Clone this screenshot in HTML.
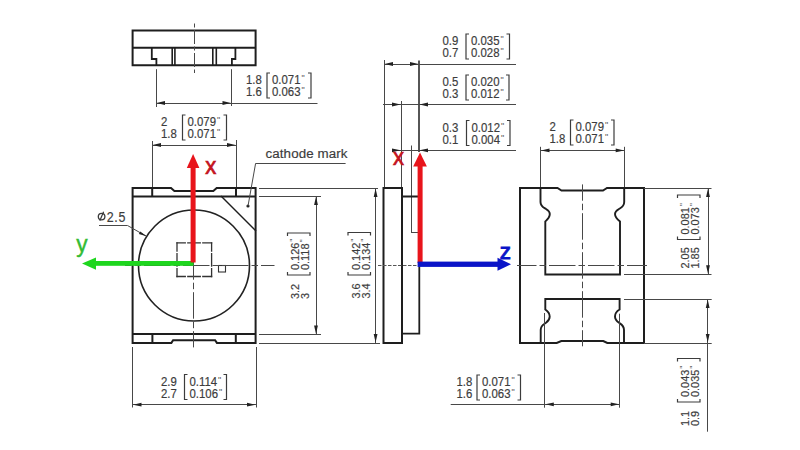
<!DOCTYPE html>
<html><head><meta charset="utf-8"><style>
html,body{margin:0;padding:0;background:#fff;width:800px;height:450px;overflow:hidden}
svg{display:block}
text{font-family:"Liberation Sans",sans-serif}
</style></head><body>
<svg width="800" height="450" viewBox="0 0 800 450">
<rect width="800" height="450" fill="#fff"/>
<path d="M132.6,30.6 H255.6 V65.3 H132.6 Z" stroke="#1e1e1e" stroke-width="2" fill="none"/>
<line x1="132.6" y1="47.8" x2="255.6" y2="47.8" stroke="#1e1e1e" stroke-width="2"/>
<path d="M151.8,48 V59 H156.4 V65.3" stroke="#1e1e1e" stroke-width="1.8" fill="none"/>
<path d="M235.4,48 V59 H231.9 V65.3" stroke="#1e1e1e" stroke-width="1.8" fill="none"/>
<line x1="172.2" y1="48" x2="172.2" y2="65.3" stroke="#1e1e1e" stroke-width="1.6"/>
<line x1="174.9" y1="48" x2="174.9" y2="65.3" stroke="#1e1e1e" stroke-width="1.6"/>
<line x1="212.8" y1="48" x2="212.8" y2="65.3" stroke="#1e1e1e" stroke-width="1.6"/>
<line x1="216.3" y1="48" x2="216.3" y2="65.3" stroke="#1e1e1e" stroke-width="1.6"/>
<line x1="194.5" y1="23" x2="194.5" y2="73" stroke="#484848" stroke-width="1" stroke-dasharray="14,2.5,4,2.5" stroke-dashoffset="16.0"/>
<line x1="156.5" y1="69.2" x2="156.5" y2="107" stroke="#484848" stroke-width="1"/>
<line x1="231.5" y1="69.2" x2="231.5" y2="106" stroke="#484848" stroke-width="1"/>
<line x1="156.4" y1="103.5" x2="317.5" y2="103.5" stroke="#484848" stroke-width="1"/>
<polygon points="156.5,103 165.0,101.1 165.0,104.9" fill="#222"/>
<polygon points="231,103 222.5,101.1 222.5,104.9" fill="#222"/>
<text transform="translate(246,84) scale(0.95,1)" font-size="12" fill="#3c3c3c" stroke="#3c3c3c" stroke-width="0.18" text-anchor="start" >1.8</text>
<text transform="translate(246,96) scale(0.95,1)" font-size="12" fill="#3c3c3c" stroke="#3c3c3c" stroke-width="0.18" text-anchor="start" >1.6</text>
<path d="M270,73 H267 V98 H270" stroke="#3c3c3c" stroke-width="1.2" fill="none"/>
<path d="M308,73 H311 V98 H308" stroke="#3c3c3c" stroke-width="1.2" fill="none"/>
<text transform="translate(272,84) scale(0.95,1)" font-size="12" fill="#3c3c3c" stroke="#3c3c3c" stroke-width="0.18" text-anchor="start" >0.071<tspan font-size="9.5" dy="-3" dx="1" stroke-width="0" fill="#555">"</tspan></text>
<text transform="translate(272,96) scale(0.95,1)" font-size="12" fill="#3c3c3c" stroke="#3c3c3c" stroke-width="0.18" text-anchor="start" >0.063<tspan font-size="9.5" dy="-3" dx="1" stroke-width="0" fill="#555">"</tspan></text>
<line x1="152.5" y1="141" x2="152.5" y2="188" stroke="#484848" stroke-width="1"/>
<line x1="236.5" y1="140" x2="236.5" y2="188" stroke="#484848" stroke-width="1"/>
<line x1="152" y1="145.5" x2="236" y2="145.5" stroke="#484848" stroke-width="1"/>
<polygon points="152.5,145 161.0,143.1 161.0,146.9" fill="#222"/>
<polygon points="235.5,145 227.0,143.1 227.0,146.9" fill="#222"/>
<text transform="translate(161,126) scale(0.95,1)" font-size="12" fill="#3c3c3c" stroke="#3c3c3c" stroke-width="0.18" text-anchor="start" >2</text>
<text transform="translate(161,138) scale(0.95,1)" font-size="12" fill="#3c3c3c" stroke="#3c3c3c" stroke-width="0.18" text-anchor="start" >1.8</text>
<path d="M185.5,115 H182.5 V140 H185.5" stroke="#3c3c3c" stroke-width="1.2" fill="none"/>
<path d="M223.5,115 H226.5 V140 H223.5" stroke="#3c3c3c" stroke-width="1.2" fill="none"/>
<text transform="translate(187.5,126) scale(0.95,1)" font-size="12" fill="#3c3c3c" stroke="#3c3c3c" stroke-width="0.18" text-anchor="start" >0.079<tspan font-size="9.5" dy="-3" dx="1" stroke-width="0" fill="#555">"</tspan></text>
<text transform="translate(187.5,138) scale(0.95,1)" font-size="12" fill="#3c3c3c" stroke="#3c3c3c" stroke-width="0.18" text-anchor="start" >0.071<tspan font-size="9.5" dy="-3" dx="1" stroke-width="0" fill="#555">"</tspan></text>
<path d="M132.6,188 H171 L174.4,191.1 H213.3 L216.7,188 H255.6 V342.9 H216.9 L215.1,340.2 H173.1 L171.4,342.9 H132.6 Z" stroke="#1e1e1e" stroke-width="2" fill="none"/>
<line x1="132.6" y1="196.6" x2="255.6" y2="196.6" stroke="#1e1e1e" stroke-width="2"/>
<line x1="132.6" y1="333.9" x2="255.6" y2="333.9" stroke="#1e1e1e" stroke-width="2"/>
<line x1="152.2" y1="188" x2="152.2" y2="196.6" stroke="#1e1e1e" stroke-width="2"/>
<line x1="236" y1="188" x2="236" y2="196.6" stroke="#1e1e1e" stroke-width="2"/>
<line x1="152.4" y1="334" x2="152.4" y2="343" stroke="#1e1e1e" stroke-width="2"/>
<line x1="235.8" y1="334" x2="235.8" y2="343" stroke="#1e1e1e" stroke-width="2"/>
<line x1="221" y1="196" x2="256" y2="231" stroke="#1e1e1e" stroke-width="1.5"/>
<circle cx="248" cy="206" r="1.6" fill="#222"/>
<line x1="248" y1="206" x2="255.6" y2="163.4" stroke="#484848" stroke-width="1"/>
<line x1="255.6" y1="163.5" x2="345.6" y2="163.5" stroke="#484848" stroke-width="1"/>
<text transform="translate(265.5,158.3) scale(0.99,1)" font-size="13.5" fill="#3c3c3c" stroke="#3c3c3c" stroke-width="0.18" text-anchor="start" letter-spacing="0.1">cathode mark</text>
<circle cx="194" cy="265.5" r="55.5" fill="none" stroke="#222" stroke-width="1.6"/>
<line x1="177" y1="242.8" x2="211.6" y2="242.8" stroke="#333" stroke-width="1.3" stroke-dasharray="8.3,2.5,12.5,2.5,9,0" stroke-linecap="square"/>
<line x1="177" y1="276.5" x2="211.6" y2="276.5" stroke="#333" stroke-width="1.3" stroke-dasharray="8.3,2.5,12.5,2.5,9,0" stroke-linecap="square"/>
<line x1="177" y1="242.8" x2="177" y2="276.5" stroke="#333" stroke-width="1.3" stroke-dasharray="8.3,2.5,12.5,2.5,9,0" stroke-linecap="square"/>
<line x1="211.6" y1="242.8" x2="211.6" y2="276.5" stroke="#333" stroke-width="1.3" stroke-dasharray="8.3,2.5,12.5,2.5,9,0" stroke-linecap="square"/>
<rect x="218.5" y="265.5" width="7" height="6.5" fill="none" stroke="#333" stroke-width="1.1"/>
<line x1="125" y1="265.5" x2="274.5" y2="265.5" stroke="#484848" stroke-width="1" stroke-dasharray="26.5,3,6.5,3" stroke-dashoffset="20.0"/>
<line x1="193.5" y1="196" x2="193.5" y2="347.4" stroke="#484848" stroke-width="1" stroke-dasharray="26.5,3,6.5,3" stroke-dashoffset="20.80000000000001"/>
<circle cx="101.6" cy="216.6" r="3.3" fill="none" stroke="#3a3a3a" stroke-width="1.3"/>
<line x1="99.8" y1="220.8" x2="103.6" y2="211.8" stroke="#3a3a3a" stroke-width="1.2"/>
<text transform="translate(106.8,221.5) scale(0.86,1)" font-size="14.5" fill="#3c3c3c" stroke="#3c3c3c" stroke-width="0.18" text-anchor="start" letter-spacing="0.7">2.5</text>
<line x1="99" y1="225.5" x2="127.5" y2="225.5" stroke="#484848" stroke-width="1"/>
<line x1="127.5" y1="225.5" x2="146" y2="236" stroke="#484848" stroke-width="1"/>
<polygon points="146.5,236.3 138.9,234.0 140.3,231.5" fill="#222"/>
<line x1="132.5" y1="347" x2="132.5" y2="407.5" stroke="#484848" stroke-width="1"/>
<line x1="256.5" y1="347" x2="256.5" y2="407.5" stroke="#484848" stroke-width="1"/>
<line x1="132.5" y1="404.5" x2="256" y2="404.5" stroke="#484848" stroke-width="1"/>
<polygon points="133,404.7 141.5,402.8 141.5,406.59999999999997" fill="#222"/>
<polygon points="255.5,404.7 247.0,402.8 247.0,406.59999999999997" fill="#222"/>
<text transform="translate(161,385.5) scale(0.95,1)" font-size="12" fill="#3c3c3c" stroke="#3c3c3c" stroke-width="0.18" text-anchor="start" >2.9</text>
<text transform="translate(161,397.5) scale(0.95,1)" font-size="12" fill="#3c3c3c" stroke="#3c3c3c" stroke-width="0.18" text-anchor="start" >2.7</text>
<path d="M187.5,374.5 H184.5 V399.5 H187.5" stroke="#3c3c3c" stroke-width="1.2" fill="none"/>
<path d="M223.5,374.5 H226.5 V399.5 H223.5" stroke="#3c3c3c" stroke-width="1.2" fill="none"/>
<text transform="translate(189.5,385.5) scale(0.95,1)" font-size="12" fill="#3c3c3c" stroke="#3c3c3c" stroke-width="0.18" text-anchor="start" >0.114<tspan font-size="9.5" dy="-3" dx="1" stroke-width="0" fill="#555">"</tspan></text>
<text transform="translate(189.5,397.5) scale(0.95,1)" font-size="12" fill="#3c3c3c" stroke="#3c3c3c" stroke-width="0.18" text-anchor="start" >0.106<tspan font-size="9.5" dy="-3" dx="1" stroke-width="0" fill="#555">"</tspan></text>
<line x1="259" y1="188.5" x2="378" y2="188.5" stroke="#484848" stroke-width="1"/>
<line x1="259" y1="196.5" x2="321" y2="196.5" stroke="#484848" stroke-width="1"/>
<line x1="259" y1="334.5" x2="321" y2="334.5" stroke="#484848" stroke-width="1"/>
<line x1="259" y1="343.5" x2="380" y2="343.5" stroke="#484848" stroke-width="1"/>
<line x1="316.5" y1="196" x2="316.5" y2="334.4" stroke="#484848" stroke-width="1"/>
<line x1="375.5" y1="188" x2="375.5" y2="343" stroke="#484848" stroke-width="1"/>
<polygon points="316,196.5 314.1,205.0 317.9,205.0" fill="#222"/>
<polygon points="316,334 314.1,325.5 317.9,325.5" fill="#222"/>
<polygon points="375.6,188.5 373.70000000000005,197.0 377.5,197.0" fill="#222"/>
<polygon points="375.6,342.5 373.70000000000005,334.0 377.5,334.0" fill="#222"/>
<g transform="translate(299,299) rotate(-90)">
<text transform="translate(0,0) scale(0.95,1)" font-size="11.5" fill="#3c3c3c" stroke="#3c3c3c" stroke-width="0.18" text-anchor="start" >3.2</text>
<text transform="translate(0,10) scale(0.95,1)" font-size="11.5" fill="#3c3c3c" stroke="#3c3c3c" stroke-width="0.18" text-anchor="start" >3</text>
</g>
<path d="M287.5,272 V275 H310 V272" stroke="#3c3c3c" stroke-width="1.2" fill="none"/>
<path d="M287.5,236 V233 H310 V236" stroke="#3c3c3c" stroke-width="1.2" fill="none"/>
<g transform="translate(299,270) rotate(-90)">
<text transform="translate(0,0) scale(0.95,1)" font-size="11.5" fill="#3c3c3c" stroke="#3c3c3c" stroke-width="0.18" text-anchor="start" >0.126<tspan font-size="9.5" dy="-3" dx="1" stroke-width="0" fill="#555">"</tspan></text>
<text transform="translate(0,10) scale(0.95,1)" font-size="11.5" fill="#3c3c3c" stroke="#3c3c3c" stroke-width="0.18" text-anchor="start" >0.118<tspan font-size="9.5" dy="-3" dx="1" stroke-width="0" fill="#555">"</tspan></text>
</g>
<g transform="translate(359.5,298.5) rotate(-90)">
<text transform="translate(0,0) scale(0.95,1)" font-size="11.5" fill="#3c3c3c" stroke="#3c3c3c" stroke-width="0.18" text-anchor="start" >3.6</text>
<text transform="translate(0,10) scale(0.95,1)" font-size="11.5" fill="#3c3c3c" stroke="#3c3c3c" stroke-width="0.18" text-anchor="start" >3.4</text>
</g>
<path d="M348.0,272 V275 H370.5 V272" stroke="#3c3c3c" stroke-width="1.2" fill="none"/>
<path d="M348.0,235.5 V232.5 H370.5 V235.5" stroke="#3c3c3c" stroke-width="1.2" fill="none"/>
<g transform="translate(359.5,270) rotate(-90)">
<text transform="translate(0,0) scale(0.95,1)" font-size="11.5" fill="#3c3c3c" stroke="#3c3c3c" stroke-width="0.18" text-anchor="start" >0.142<tspan font-size="9.5" dy="-3" dx="1" stroke-width="0" fill="#555">"</tspan></text>
<text transform="translate(0,10) scale(0.95,1)" font-size="11.5" fill="#3c3c3c" stroke="#3c3c3c" stroke-width="0.18" text-anchor="start" >0.134<tspan font-size="9.5" dy="-3" dx="1" stroke-width="0" fill="#555">"</tspan></text>
</g>
<line x1="384.5" y1="60" x2="384.5" y2="188" stroke="#484848" stroke-width="1"/>
<line x1="419" y1="60.6" x2="419" y2="152" stroke="#1e1e1e" stroke-width="1.5"/>
<line x1="401.5" y1="101" x2="401.5" y2="188" stroke="#484848" stroke-width="1"/>
<line x1="411.5" y1="145.5" x2="411.5" y2="232" stroke="#484848" stroke-width="1"/>
<line x1="411" y1="232.5" x2="418" y2="232.5" stroke="#484848" stroke-width="1"/>
<line x1="384" y1="64.5" x2="516" y2="64.5" stroke="#484848" stroke-width="1"/>
<polygon points="384.5,64 393.0,62.1 393.0,65.9" fill="#222"/>
<polygon points="418.5,64 410.0,62.1 410.0,65.9" fill="#222"/>
<line x1="383" y1="104.5" x2="516" y2="104.5" stroke="#484848" stroke-width="1"/>
<polygon points="400.5,104.5 392.0,102.6 392.0,106.4" fill="#222"/>
<polygon points="419.5,104.5 428.0,102.6 428.0,106.4" fill="#222"/>
<line x1="392" y1="150.5" x2="516" y2="150.5" stroke="#484848" stroke-width="1"/>
<polygon points="400.5,150.3 392.0,148.4 392.0,152.20000000000002" fill="#222"/>
<polygon points="419.5,150.3 428.0,148.4 428.0,152.20000000000002" fill="#222"/>
<text transform="translate(442.5,45) scale(0.95,1)" font-size="12" fill="#3c3c3c" stroke="#3c3c3c" stroke-width="0.18" text-anchor="start" >0.9</text>
<text transform="translate(442.5,57) scale(0.95,1)" font-size="12" fill="#3c3c3c" stroke="#3c3c3c" stroke-width="0.18" text-anchor="start" >0.7</text>
<path d="M469,34 H466 V59 H469" stroke="#3c3c3c" stroke-width="1.2" fill="none"/>
<path d="M506.5,34 H509.5 V59 H506.5" stroke="#3c3c3c" stroke-width="1.2" fill="none"/>
<text transform="translate(471,45) scale(0.95,1)" font-size="12" fill="#3c3c3c" stroke="#3c3c3c" stroke-width="0.18" text-anchor="start" >0.035<tspan font-size="9.5" dy="-3" dx="1" stroke-width="0" fill="#555">"</tspan></text>
<text transform="translate(471,57) scale(0.95,1)" font-size="12" fill="#3c3c3c" stroke="#3c3c3c" stroke-width="0.18" text-anchor="start" >0.028<tspan font-size="9.5" dy="-3" dx="1" stroke-width="0" fill="#555">"</tspan></text>
<text transform="translate(442.5,86) scale(0.95,1)" font-size="12" fill="#3c3c3c" stroke="#3c3c3c" stroke-width="0.18" text-anchor="start" >0.5</text>
<text transform="translate(442.5,98) scale(0.95,1)" font-size="12" fill="#3c3c3c" stroke="#3c3c3c" stroke-width="0.18" text-anchor="start" >0.3</text>
<path d="M469,75 H466 V100 H469" stroke="#3c3c3c" stroke-width="1.2" fill="none"/>
<path d="M506,75 H509 V100 H506" stroke="#3c3c3c" stroke-width="1.2" fill="none"/>
<text transform="translate(471,86) scale(0.95,1)" font-size="12" fill="#3c3c3c" stroke="#3c3c3c" stroke-width="0.18" text-anchor="start" >0.020<tspan font-size="9.5" dy="-3" dx="1" stroke-width="0" fill="#555">"</tspan></text>
<text transform="translate(471,98) scale(0.95,1)" font-size="12" fill="#3c3c3c" stroke="#3c3c3c" stroke-width="0.18" text-anchor="start" >0.012<tspan font-size="9.5" dy="-3" dx="1" stroke-width="0" fill="#555">"</tspan></text>
<text transform="translate(442.5,131.5) scale(0.95,1)" font-size="12" fill="#3c3c3c" stroke="#3c3c3c" stroke-width="0.18" text-anchor="start" >0.3</text>
<text transform="translate(442.5,143.5) scale(0.95,1)" font-size="12" fill="#3c3c3c" stroke="#3c3c3c" stroke-width="0.18" text-anchor="start" >0.1</text>
<path d="M469.5,120.5 H466.5 V145.5 H469.5" stroke="#3c3c3c" stroke-width="1.2" fill="none"/>
<path d="M507,120.5 H510 V145.5 H507" stroke="#3c3c3c" stroke-width="1.2" fill="none"/>
<text transform="translate(471.5,131.5) scale(0.95,1)" font-size="12" fill="#3c3c3c" stroke="#3c3c3c" stroke-width="0.18" text-anchor="start" >0.012<tspan font-size="9.5" dy="-3" dx="1" stroke-width="0" fill="#555">"</tspan></text>
<text transform="translate(471.5,143.5) scale(0.95,1)" font-size="12" fill="#3c3c3c" stroke="#3c3c3c" stroke-width="0.18" text-anchor="start" >0.004<tspan font-size="9.5" dy="-3" dx="1" stroke-width="0" fill="#555">"</tspan></text>
<path d="M383.5,188 H402 V343 H383.5 Z" stroke="#1e1e1e" stroke-width="2" fill="none"/>
<path d="M402,196.5 H419.3 V333.6 H402" stroke="#1e1e1e" stroke-width="1.8" fill="none"/>
<line x1="378" y1="265.5" x2="420" y2="265.5" stroke="#555" stroke-width="1" stroke-dasharray="3.5,1.5" stroke-dashoffset="0.0"/>
<line x1="540.5" y1="146.8" x2="540.5" y2="188" stroke="#484848" stroke-width="1"/>
<line x1="624.5" y1="146.8" x2="624.5" y2="188" stroke="#484848" stroke-width="1"/>
<line x1="540.5" y1="150.5" x2="624.7" y2="150.5" stroke="#484848" stroke-width="1"/>
<polygon points="541,150.4 549.5,148.5 549.5,152.3" fill="#222"/>
<polygon points="624.2,150.4 615.7,148.5 615.7,152.3" fill="#222"/>
<text transform="translate(549.5,131) scale(0.95,1)" font-size="12" fill="#3c3c3c" stroke="#3c3c3c" stroke-width="0.18" text-anchor="start" >2</text>
<text transform="translate(549.5,143) scale(0.95,1)" font-size="12" fill="#3c3c3c" stroke="#3c3c3c" stroke-width="0.18" text-anchor="start" >1.8</text>
<path d="M573.5,120 H570.5 V145 H573.5" stroke="#3c3c3c" stroke-width="1.2" fill="none"/>
<path d="M611,120 H614 V145 H611" stroke="#3c3c3c" stroke-width="1.2" fill="none"/>
<text transform="translate(575.5,131) scale(0.95,1)" font-size="12" fill="#3c3c3c" stroke="#3c3c3c" stroke-width="0.18" text-anchor="start" >0.079<tspan font-size="9.5" dy="-3" dx="1" stroke-width="0" fill="#555">"</tspan></text>
<text transform="translate(575.5,143) scale(0.95,1)" font-size="12" fill="#3c3c3c" stroke="#3c3c3c" stroke-width="0.18" text-anchor="start" >0.071<tspan font-size="9.5" dy="-3" dx="1" stroke-width="0" fill="#555">"</tspan></text>
<path d="M520,188 H557.5 L561.5,190.5 H603 L607,188 H644 V343 H607.3 L603.3,341 H561.3 L556.7,343 H520 Z" stroke="#1e1e1e" stroke-width="2" fill="none"/>
<path d="M540.5,188 V202 C540.5,206.5 543.5,207.5 546,209 C548.5,210.5 549.8,212.5 549.8,214 C549.8,217.5 547.5,219.5 545.3,221.5 V274.5 H620 V221.5 C617.5,219.5 615,217.5 615,214 C615,212.5 616.5,210.5 619,209 C621.5,207.5 624.2,206.5 624.2,202 V188" stroke="#1e1e1e" stroke-width="1.9" fill="none"/>
<path d="M540.7,343 V330 C540.7,325.5 543.5,324.5 546,322.8 C548.5,321 549.7,318.5 549.7,316.5 C549.7,313 547.5,311 545.3,309.5 V299 H619.6 V309.5 C617,311 615,313 615,316.5 C615,318.5 616.5,321 619,322.8 C621.5,324.5 624,325.5 624,330 V343" stroke="#1e1e1e" stroke-width="1.9" fill="none"/>
<line x1="582.5" y1="184.4" x2="582.5" y2="346.3" stroke="#484848" stroke-width="1" stroke-dasharray="26.5,3,6.5,3" stroke-dashoffset="10.200000000000017"/>
<line x1="517" y1="265.5" x2="647" y2="265.5" stroke="#484848" stroke-width="1" stroke-dasharray="26.5,3,6.5,3" stroke-dashoffset="7.0"/>
<line x1="644" y1="188.5" x2="711.5" y2="188.5" stroke="#484848" stroke-width="1"/>
<line x1="624" y1="274.5" x2="711.5" y2="274.5" stroke="#484848" stroke-width="1"/>
<line x1="624" y1="299.5" x2="711.7" y2="299.5" stroke="#484848" stroke-width="1"/>
<line x1="644" y1="343.5" x2="711.7" y2="343.5" stroke="#484848" stroke-width="1"/>
<line x1="708.5" y1="188" x2="708.5" y2="274.3" stroke="#484848" stroke-width="1"/>
<polygon points="708,188.5 706.1,197.0 709.9,197.0" fill="#222"/>
<polygon points="708,273.8 706.1,265.3 709.9,265.3" fill="#222"/>
<line x1="707.5" y1="299" x2="707.5" y2="431.7" stroke="#484848" stroke-width="1"/>
<polygon points="707.7,299.5 705.8000000000001,308.0 709.6,308.0" fill="#222"/>
<polygon points="707.7,342.5 705.8000000000001,334.0 709.6,334.0" fill="#222"/>
<line x1="544.5" y1="313" x2="544.5" y2="407.7" stroke="#484848" stroke-width="1"/>
<line x1="619.5" y1="313.7" x2="619.5" y2="407.7" stroke="#484848" stroke-width="1"/>
<line x1="450.7" y1="404.5" x2="619.7" y2="404.5" stroke="#484848" stroke-width="1"/>
<polygon points="545.3,404.3 553.8,402.40000000000003 553.8,406.2" fill="#222"/>
<polygon points="619.2,404.3 610.7,402.40000000000003 610.7,406.2" fill="#222"/>
<text transform="translate(456.5,386) scale(0.95,1)" font-size="12" fill="#3c3c3c" stroke="#3c3c3c" stroke-width="0.18" text-anchor="start" >1.8</text>
<text transform="translate(456.5,398) scale(0.95,1)" font-size="12" fill="#3c3c3c" stroke="#3c3c3c" stroke-width="0.18" text-anchor="start" >1.6</text>
<path d="M480,375 H477 V400 H480" stroke="#3c3c3c" stroke-width="1.2" fill="none"/>
<path d="M517.5,375 H520.5 V400 H517.5" stroke="#3c3c3c" stroke-width="1.2" fill="none"/>
<text transform="translate(482,386) scale(0.95,1)" font-size="12" fill="#3c3c3c" stroke="#3c3c3c" stroke-width="0.18" text-anchor="start" >0.071<tspan font-size="9.5" dy="-3" dx="1" stroke-width="0" fill="#555">"</tspan></text>
<text transform="translate(482,398) scale(0.95,1)" font-size="12" fill="#3c3c3c" stroke="#3c3c3c" stroke-width="0.18" text-anchor="start" >0.063<tspan font-size="9.5" dy="-3" dx="1" stroke-width="0" fill="#555">"</tspan></text>
<g transform="translate(689,268.5) rotate(-90)">
<text transform="translate(0,0) scale(0.95,1)" font-size="11.5" fill="#3c3c3c" stroke="#3c3c3c" stroke-width="0.18" text-anchor="start" >2.05</text>
<text transform="translate(0,10) scale(0.95,1)" font-size="11.5" fill="#3c3c3c" stroke="#3c3c3c" stroke-width="0.18" text-anchor="start" >1.85</text>
</g>
<path d="M677.5,236.5 V239.5 H700 V236.5" stroke="#3c3c3c" stroke-width="1.2" fill="none"/>
<path d="M677.5,198 V195 H700 V198" stroke="#3c3c3c" stroke-width="1.2" fill="none"/>
<g transform="translate(689,234.5) rotate(-90)">
<text transform="translate(0,0) scale(0.95,1)" font-size="11.5" fill="#3c3c3c" stroke="#3c3c3c" stroke-width="0.18" text-anchor="start" >0.081<tspan font-size="9.5" dy="-3" dx="1" stroke-width="0" fill="#555">"</tspan></text>
<text transform="translate(0,10) scale(0.95,1)" font-size="11.5" fill="#3c3c3c" stroke="#3c3c3c" stroke-width="0.18" text-anchor="start" >0.073<tspan font-size="9.5" dy="-3" dx="1" stroke-width="0" fill="#555">"</tspan></text>
</g>
<g transform="translate(689,426) rotate(-90)">
<text transform="translate(0,0) scale(0.95,1)" font-size="11.5" fill="#3c3c3c" stroke="#3c3c3c" stroke-width="0.18" text-anchor="start" >1.1</text>
<text transform="translate(0,10) scale(0.95,1)" font-size="11.5" fill="#3c3c3c" stroke="#3c3c3c" stroke-width="0.18" text-anchor="start" >0.9</text>
</g>
<path d="M677.5,399 V402 H700 V399" stroke="#3c3c3c" stroke-width="1.2" fill="none"/>
<path d="M677.5,361.5 V358.5 H700 V361.5" stroke="#3c3c3c" stroke-width="1.2" fill="none"/>
<g transform="translate(689,397) rotate(-90)">
<text transform="translate(0,0) scale(0.95,1)" font-size="11.5" fill="#3c3c3c" stroke="#3c3c3c" stroke-width="0.18" text-anchor="start" >0.043<tspan font-size="9.5" dy="-3" dx="1" stroke-width="0" fill="#555">"</tspan></text>
<text transform="translate(0,10) scale(0.95,1)" font-size="11.5" fill="#3c3c3c" stroke="#3c3c3c" stroke-width="0.18" text-anchor="start" >0.035<tspan font-size="9.5" dy="-3" dx="1" stroke-width="0" fill="#555">"</tspan></text>
</g>
<rect x="94" y="261" width="99.5" height="4.8" fill="#1ed61e"/>
<polygon points="82,263.6 96,257.4 96,269.8" fill="#1ed61e"/>
<rect x="190.6" y="166" width="5" height="96.5" fill="#e8141b"/>
<polygon points="193.1,154 186.8,168 199.4,168" fill="#e8141b"/>
<text transform="translate(205.3,174) scale(0.92,1)" font-size="24" fill="#c4141e" stroke="#c4141e" stroke-width="0.7" text-anchor="start" >x</text>
<text transform="translate(76.3,251.5) scale(0.95,1)" font-size="24" fill="#34bc34" stroke="#34bc34" stroke-width="0.4" text-anchor="start" >y</text>
<rect x="417.6" y="165" width="5" height="98" fill="#e8141b"/>
<polygon points="420,152.5 413.2,166.5 426.9,166.5" fill="#e8141b"/>
<rect x="417.6" y="261.6" width="82" height="5.3" fill="#0a14c8"/>
<polygon points="511,264.2 497.5,257.8 497.5,270.8" fill="#0a14c8"/>
<text transform="translate(393,164.8) scale(0.92,1)" font-size="24" fill="#c4141e" stroke="#c4141e" stroke-width="0.7" text-anchor="start" >x</text>
<text transform="translate(499.7,258.8) scale(1,1)" font-size="22.5" fill="#0a14c8" stroke="#0a14c8" stroke-width="0.9" text-anchor="start" >z</text>
</svg></body></html>
